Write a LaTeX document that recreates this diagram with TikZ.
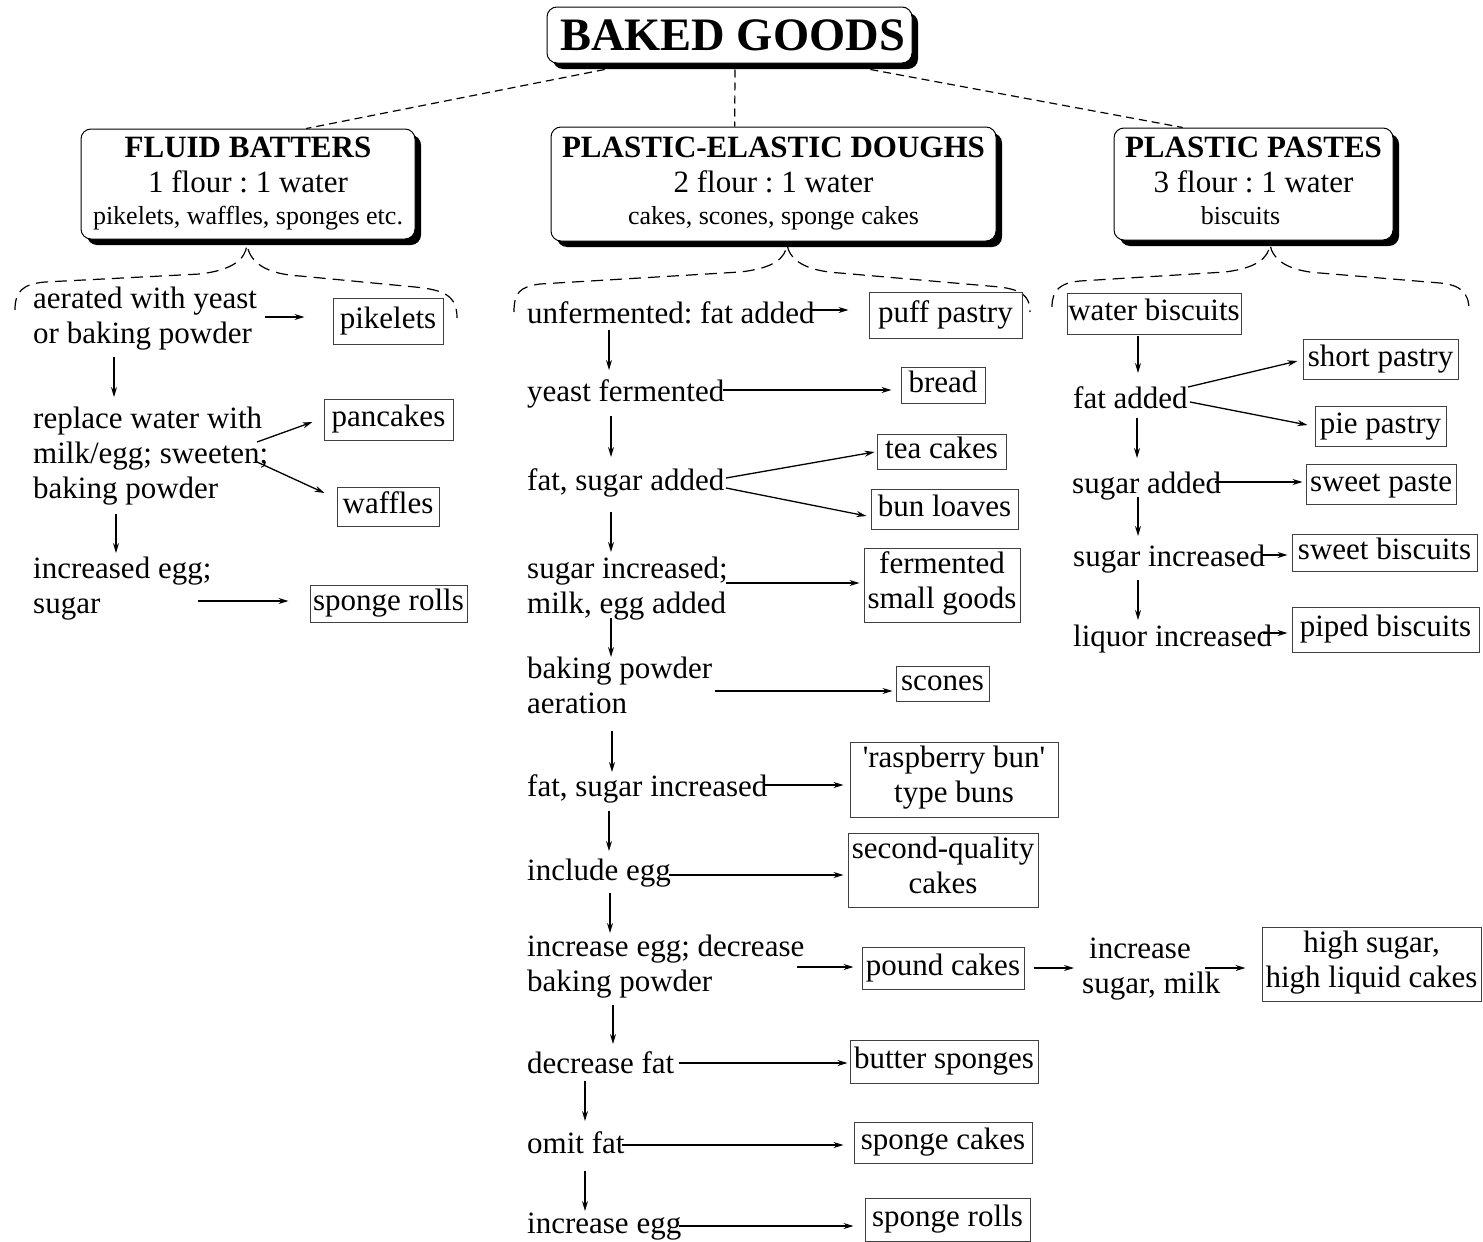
\documentclass[tikz,border=0pt]{standalone}
\usepackage{fontspec}
\setmainfont{Liberation Serif}
\usetikzlibrary{arrows.meta,shadows,calc}
\newcommand\bodyf{\fontsize{31}{35}\selectfont}
\newcommand\smallf{\fontsize{26}{30}\selectfont}
\newcommand\titlef{\fontsize{46.5}{50}\selectfont\bfseries}
\newcommand\firstl{\rule{0pt}{27.5pt}}
\frenchspacing
\begin{document}
\begin{tikzpicture}[x=1pt,y=-1pt,
  steptxt/.style={anchor=north west, yshift=24.5pt, inner sep=0pt, align=left, font=\bodyf,
     execute at begin node={\firstl}},
  prodbox/.style 2 args={draw=black!75, line width=1pt, inner sep=0pt, align=center, font=\bodyf,
     minimum width=#1, minimum height=#2, execute at begin node=\strut, execute at end node=\strut},
  catbox/.style 2 args={draw, line width=1pt, rounded corners=10pt, fill=white, align=center, inner sep=0pt,
     font=\bodyf, minimum width=#1, minimum height=#2,
     drop shadow={fill=black, opacity=1, shadow xshift=6pt, shadow yshift=-6pt},
     execute at begin node={\rule{0pt}{26.5pt}}, execute at end node={\rule[-6pt]{0pt}{6pt}}},
  titlebox/.style={draw, line width=1pt, rounded corners=10pt, fill=white, inner sep=0pt,
     minimum width=365, minimum height=56, font=\titlef,
     drop shadow={fill=black, opacity=1, shadow xshift=6pt, shadow yshift=-6pt}},
  flow/.style={-{Stealth[length=10pt,width=6pt]}, line width=1.3pt},
  topdash/.style={dash pattern=on 8pt off 5pt, line width=1.2pt},
  bracedash/.style={dash pattern=on 12pt off 7pt, line width=1.2pt}
]
\useasboundingbox (0,0) rectangle (1483,1242);

% ---------- top level ----------
\node[titlebox] (title) at (729.5,35) {\hspace*{6pt}BAKED GOODS};
\node[catbox={334}{110}] (fluid) at (248,184)
  {\textbf{FLUID BATTERS}\\1 flour : 1 water\\[-3pt]{\smallf pikelets, waffles, sponges etc.}};
\node[catbox={445}{114}] (elastic) at (773.5,184)
  {\textbf{PLASTIC-ELASTIC DOUGHS}\\2 flour : 1 water\\[-3pt]{\smallf cakes, scones, sponge cakes}};
\node[catbox={279}{112}] (pastes) at (1253.5,184)
  {\textbf{PLASTIC PASTES}\\3 flour : 1 water\\[-3pt]{\smallf biscuits\hspace*{26pt}}};

\draw[topdash] ($(title.south west)!0.159!(title.south east) + (0,6)$) -- ($(fluid.north west)!0.674!(fluid.north east)$);
\draw[topdash] ($(title.south west)!0.515!(title.south east) + (0,6)$) -- ($(elastic.north west)!0.413!(elastic.north east)$);
\draw[topdash] ($(title.south west)!0.885!(title.south east) + (0,6)$) -- ($(pastes.north west)!0.247!(pastes.north east)$);

% ---------- braces ----------
\draw[bracedash] (15,310) .. controls (15,292) and (22,284) .. (45,282) -- (200,274)
  .. controls (232,270) and (245,260) .. (247,245)
  .. controls (250,262) and (265,274) .. (300,276) -- (415,287)
  .. controls (445,290) and (457,296) .. (457,318);
\draw[bracedash] (514,312) .. controls (514,292) and (520,287) .. (540,284) -- (740,272)
  .. controls (775,268) and (785,258) .. (787,245)
  .. controls (790,260) and (805,271) .. (840,273) -- (1000,287)
  .. controls (1022,290) and (1030,296) .. (1030,312);
\draw[bracedash] (1052,307) .. controls (1052,290) and (1060,283) .. (1080,281) -- (1225,272)
  .. controls (1257,268) and (1268,258) .. (1270,245)
  .. controls (1273,260) and (1288,271) .. (1320,273) -- (1440,283)
  .. controls (1460,285) and (1469,292) .. (1469,310);

% ---------- left column ----------
\node[steptxt] (a1) at (33,305) {\firstl aerated with yeast\\or baking powder};
\node[steptxt] (a2) at (33,425) {\firstl replace water with\\milk/egg; sweeten;\\baking powder};
\node[steptxt] (a3) at (33,575) {\firstl increased egg;\\sugar};
\node[prodbox={110}{46}] (pik) at (388,321) {pikelets};
\node[prodbox={129}{41}] (panc) at (388.5,419.5) {pancakes};
\node[prodbox={102}{39}] (waf) at (388,506.5) {waffles};
\node[prodbox={157}{37}] (sprL) at (388.5,603.5) {sponge rolls};

\draw[flow] ([shift={(232,36.5)}]a1.north west) -- ([shift={(-28,-4)}]pik.west);
\draw[flow] ([shift={(81,76.5)}]a1.north west) -- ([shift={(81,-3.5)}]a2.north west);
\draw[flow] ([shift={(224,41.5)}]a2.north west) -- ([shift={(-11,2.5)}]panc.west);
\draw[flow] ([shift={(224,61.5)}]a2.north west) -- ([shift={(-12,-13.5)}]waf.west);
\draw[flow] ([shift={(83,113.5)}]a2.north west) -- ([shift={(83,2.5)}]a3.north west);
\draw[flow] ([shift={(165,50.5)}]a3.north west) -- ([shift={(-21,-2.5)}]sprL.west);

% ---------- middle column ----------
\node[steptxt] (m1) at (527,320) {unfermented: fat added};
\node[steptxt] (m2) at (527,398) {yeast fermented};
\node[steptxt] (m3) at (527,487) {fat, sugar added};
\node[steptxt] (m4) at (527,575) {\firstl sugar increased;\\milk, egg added};
\node[steptxt] (m5) at (527,675) {\firstl baking powder\\aeration};
\node[steptxt] (m6) at (527,793) {fat, sugar increased};
\node[steptxt] (m7) at (527,877) {include egg};
\node[steptxt] (m8) at (527,953) {\firstl increase egg; decrease\\baking powder};
\node[steptxt] (m9) at (527,1070) {decrease fat};
\node[steptxt] (m10) at (527,1150) {omit fat};
\node[steptxt] (m11) at (527,1230) {increase egg};
\node[steptxt] (inc) at (1082,955) {\firstl\hspace*{7pt}increase\\sugar, milk};

\node[prodbox={153}{46}] (puff) at (945.5,315) {puff pastry};
\node[prodbox={84}{36}] (bread) at (943,385) {bread};
\node[prodbox={129}{35}] (tea) at (941.5,451.5) {tea cakes};
\node[prodbox={147}{40}] (bun) at (944.5,509) {bun loaves};
\node[prodbox={156}{74}] (ferm) at (942,585) {fermented\\small goods};
\node[prodbox={93}{33}] (scones) at (942.5,683.5) {scones};
\node[prodbox={208}{75}] (rasp) at (954,779.5) {\textquotesingle raspberry bun\textquotesingle\\type buns};
\node[prodbox={190}{74}] (second) at (943,870) {second-quality\\cakes};
\node[prodbox={162}{42}] (pound) at (943,968) {pound cakes};
\node[prodbox={219}{74}] (high) at (1371.5,964) {high sugar,\\high liquid cakes};
\node[prodbox={188}{43}] (butter) at (944,1061.5) {butter sponges};
\node[prodbox={178}{41}] (spcakes) at (943,1142.5) {sponge cakes};
\node[prodbox={165}{43}] (sprM) at (947.5,1219.5) {sponge rolls};

\draw[flow] ([shift={(285,14.5)}]m1.north west) -- ([shift={(-20,-5)}]puff.west);
\draw[flow] ([shift={(82,34.5)}]m1.north west) -- ([shift={(82,-3.5)}]m2.north west);
\draw[flow] ([shift={(196,16.5)}]m2.north west) -- ([shift={(-9,5)}]bread.west);
\draw[flow] ([shift={(84,42.5)}]m2.north west) -- ([shift={(84,-5.5)}]m3.north west);
\draw[flow] ([shift={(199,15.5)}]m3.north west) -- ([shift={(-2,0.5)}]tea.west);
\draw[flow] ([shift={(199,25.5)}]m3.north west) -- ([shift={(-4,7)}]bun.west);
\draw[flow] ([shift={(84,49.5)}]m3.north west) -- ([shift={(84,1.5)}]m4.north west);
\draw[flow] ([shift={(199,32.5)}]m4.north west) -- ([shift={(-4,-2)}]ferm.west);
\draw[flow] ([shift={(84,67.5)}]m4.north west) -- ([shift={(84,6.5)}]m5.north west);
\draw[flow] ([shift={(188,40.5)}]m5.north west) -- ([shift={(-3,7.5)}]scones.west);
\draw[flow] ([shift={(85,80.5)}]m5.north west) -- ([shift={(85,3.5)}]m6.north west);
\draw[flow] ([shift={(237,16.5)}]m6.north west) -- ([shift={(-6,5.5)}]rasp.west);
\draw[flow] ([shift={(82,42.5)}]m6.north west) -- ([shift={(82,-1.5)}]m7.north west);
\draw[flow] ([shift={(142,22.5)}]m7.north west) -- ([shift={(-4,5)}]second.west);
\draw[flow] ([shift={(83,40.5)}]m7.north west) -- ([shift={(83,4.5)}]m8.north west);
\draw[flow] ([shift={(270,38.5)}]m8.north west) -- ([shift={(-8,-1)}]pound.west);
\draw[flow] ([shift={(9,0)}]pound.east) -- ([shift={(-8,37.5)}]inc.north west);
\draw[flow] ([shift={(123,37.5)}]inc.north west) -- ([shift={(-16,4)}]high.west);
\draw[flow] ([shift={(86,76.5)}]m8.north west) -- ([shift={(86,-1.5)}]m9.north west);
\draw[flow] ([shift={(152,17.5)}]m9.north west) -- ([shift={(-2,1.5)}]butter.west);
\draw[flow] ([shift={(58,35.5)}]m9.north west) -- ([shift={(58,-4.5)}]m10.north west);
\draw[flow] ([shift={(95,19.5)}]m10.north west) -- ([shift={(-10,2.5)}]spcakes.west);
\draw[flow] ([shift={(58,45.5)}]m10.north west) -- ([shift={(58,5.5)}]m11.north west);
\draw[flow] ([shift={(152,20.5)}]m11.north west) -- ([shift={(-11,6.5)}]sprM.west);

% ---------- right column ----------
\node[prodbox={174}{41}] (water) at (1154,313.5) {water biscuits};
\node[steptxt] (r1) at (1073,405) {fat added};
\node[steptxt] (r2) at (1072,490) {sugar added};
\node[steptxt] (r3) at (1073,563) {sugar increased};
\node[steptxt] (r4) at (1073,643) {liquor increased};
\node[prodbox={155}{40}] (short) at (1380.5,359) {short pastry};
\node[prodbox={131}{40}] (pie) at (1380.5,426) {pie pastry};
\node[prodbox={150}{40}] (sweetp) at (1381,484) {sweet paste};
\node[prodbox={185}{37}] (sweetb) at (1384.5,552.5) {sweet biscuits};
\node[prodbox={187}{45}] (piped) at (1385.5,629.5) {piped biscuits};

\draw[flow] ([shift={(-16,1)}]water.south) -- ([shift={(65,-7.5)}]r1.north west);
\draw[flow] ([shift={(115,6.5)}]r1.north west) -- ([shift={(-5,2)}]short.west);
\draw[flow] ([shift={(117,21.5)}]r1.north west) -- ([shift={(-7,-1)}]pie.west);
\draw[flow] ([shift={(64,37.5)}]r1.north west) -- ([shift={(65,-7.5)}]r2.north west);
\draw[flow] ([shift={(143,16.5)}]r2.north west) -- ([shift={(-3,-2)}]sweetp.west);
\draw[flow] ([shift={(66,31.5)}]r2.north west) -- ([shift={(65,-2.5)}]r3.north west);
\draw[flow] ([shift={(189,16.5)}]r3.north west) -- ([shift={(-4,2.5)}]sweetb.west);
\draw[flow] ([shift={(65,41.5)}]r3.north west) -- ([shift={(65,1.5)}]r4.north west);
\draw[flow] ([shift={(190,14.5)}]r4.north west) -- ([shift={(-4,3.5)}]piped.west);
\end{tikzpicture}
\end{document}
